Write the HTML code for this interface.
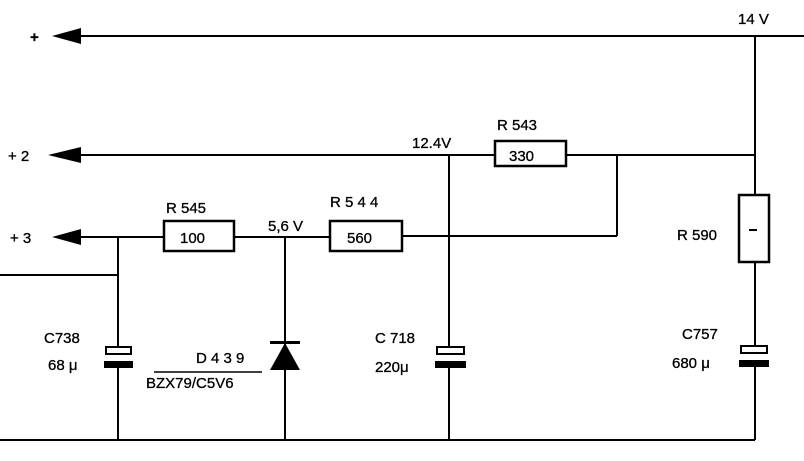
<!DOCTYPE html>
<html><head><meta charset="utf-8"><style>
body{margin:0;background:#fff}
svg{display:block}
text{font-family:"Liberation Sans",sans-serif;font-size:15px;fill:#000;stroke:#000;stroke-width:0.3}
</style></head><body>
<svg width="804" height="461" viewBox="0 0 804 461">
<g stroke="#000" stroke-width="2" fill="none">
<line x1="78" y1="36" x2="804" y2="36"/>
<line x1="78" y1="155" x2="495" y2="155"/>
<line x1="566" y1="155" x2="755" y2="155"/>
<line x1="755" y1="36" x2="755" y2="195"/>
<line x1="755" y1="262" x2="755" y2="347"/>
<line x1="755" y1="367" x2="755" y2="440"/>
<line x1="78" y1="237" x2="164" y2="237"/>
<line x1="234" y1="237" x2="330" y2="237"/>
<line x1="402" y1="236" x2="617" y2="236"/>
<line x1="617" y1="236" x2="617" y2="155"/>
<line x1="0" y1="275" x2="118" y2="275"/>
<line x1="118" y1="237" x2="118" y2="347"/>
<line x1="118" y1="367" x2="118" y2="440"/>
<line x1="285" y1="237" x2="285" y2="440"/>
<line x1="449" y1="155" x2="449" y2="347"/>
<line x1="449" y1="367" x2="449" y2="440"/>
<line x1="0" y1="440" x2="755" y2="440"/>
<rect x="164" y="221" width="70" height="30" stroke-width="2.5"/>
<rect x="330" y="221" width="72" height="30" stroke-width="2.5"/>
<rect x="495" y="141" width="71" height="25" stroke-width="2.5"/>
<rect x="739" y="195" width="30" height="67" stroke-width="2.5"/>
<line x1="749" y1="230" x2="757" y2="230"/>
<rect x="106" y="347" width="25" height="7"/>
<rect x="437" y="347" width="27" height="7"/>
<rect x="741" y="346" width="26" height="7"/>
<line x1="154" y1="372" x2="262" y2="372" stroke-width="1.5"/>
</g>
<g fill="#000">
<rect x="104" y="361" width="29" height="7"/>
<rect x="435" y="361" width="31" height="7"/>
<rect x="739" y="360" width="30" height="7"/>
<polygon points="52,36 81,28 81,44"/>
<polygon points="48,155 81,147 81,163"/>
<polygon points="52,237 81,229 81,245"/>
<polygon points="270,370 285,343 300,370"/>
<rect x="270" y="341" width="30" height="3"/>
</g>
<text x="30" y="42" style="font-weight:bold">+</text>
<text x="8" y="161">+ 2</text>
<text x="10" y="243">+ 3</text>
<text x="166" y="213">R 545</text>
<text x="180" y="243">100</text>
<text x="268" y="231">5,6 V</text>
<text x="330" y="207">R 5 4 4</text>
<text x="347" y="243">560</text>
<text x="412" y="148">12.4V</text>
<text x="497" y="130">R 543</text>
<text x="509" y="161">330</text>
<text x="738" y="24">14 V</text>
<text x="677" y="240">R 590</text>
<text x="44" y="343">C738</text>
<text x="48" y="370">68 μ</text>
<text x="196" y="363">D 4 3 9</text>
<text x="146" y="388">BZX79/C5V6</text>
<text x="375" y="343">C 718</text>
<text x="375" y="372">220μ</text>
<text x="682" y="339">C757</text>
<text x="672" y="368">680 μ</text>
</svg>
</body></html>
